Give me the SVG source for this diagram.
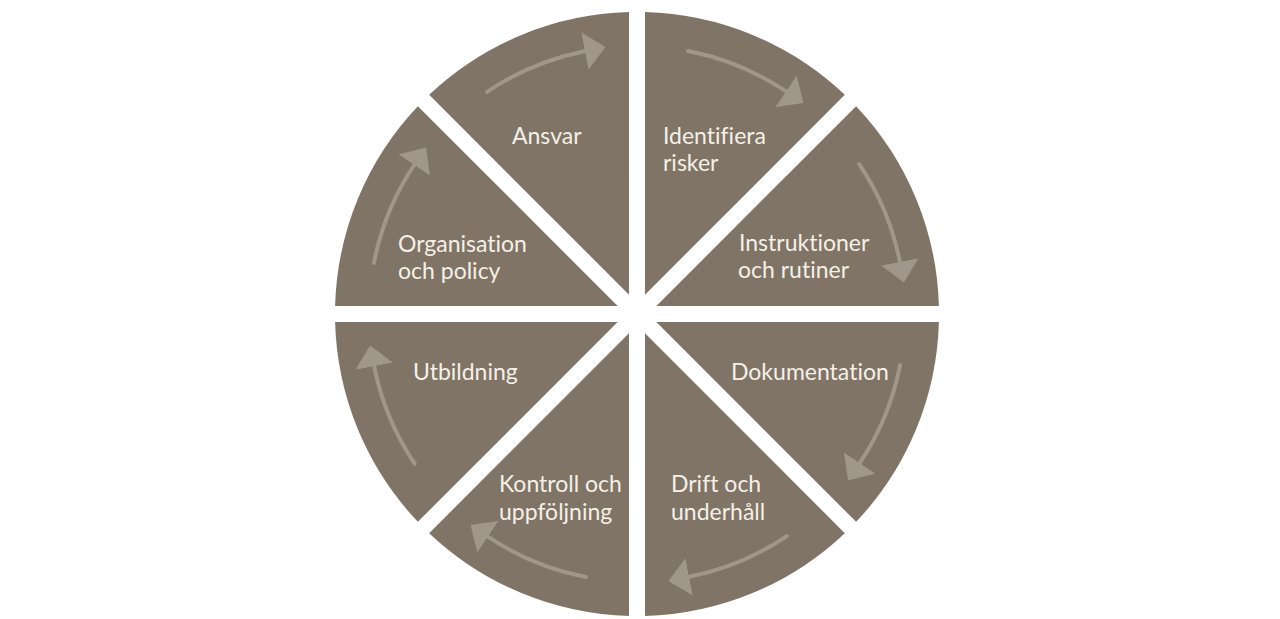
<svg xmlns="http://www.w3.org/2000/svg" width="1280" height="619" viewBox="0 0 1280 619">
  <defs>
    <style>
      .sector { fill: #7f7465; }
      .arc { fill: none; stroke: #a0978a; stroke-width: 4; stroke-linecap: round; }
      .lbl { font-family: Lato, "Open Sans", "Liberation Sans", sans-serif; font-size: 23px; fill: #f5f0e7; font-variant-ligatures: none; font-feature-settings: "liga" 0, "clig" 0; }
    </style>
    <path id="wedge" d="M 8,-19.31 L 8,-301.89 A 302 302 0 0 1 207.81,-219.13 Z"/>
    <marker id="ah" viewBox="0 0 21 38" markerWidth="21" markerHeight="38" refX="1" refY="19" orient="auto" markerUnits="userSpaceOnUse">
      <path d="M0,0 L21,19 L0,38 Z" fill="#a0978a"/>
    </marker>
  </defs>
  <rect width="1280" height="619" fill="#ffffff"/>

  <g transform="translate(637,314)">
    <g id="identifiera-risker"><use href="#wedge" class="sector"/></g>
    <g id="instruktioner-och-rutiner"><use href="#wedge" class="sector" transform="rotate(45)"/></g>
    <g id="dokumentation"><use href="#wedge" class="sector" transform="rotate(90)"/></g>
    <g id="drift-och-underhall"><use href="#wedge" class="sector" transform="rotate(135)"/></g>
    <g id="kontroll-och-uppfoljning"><use href="#wedge" class="sector" transform="rotate(180)"/></g>
    <g id="utbildning"><use href="#wedge" class="sector" transform="rotate(225)"/></g>
    <g id="organisation-och-policy"><use href="#wedge" class="sector" transform="rotate(270)"/></g>
    <g id="ansvar"><use href="#wedge" class="sector" transform="rotate(315)"/></g>

    <g id="connectors">
      <path class="arc" marker-end="url(#ah)" d="M 51.14,-263.08 A 268 268 0 0 1 149.86,-222.18"/>
      <path class="arc" marker-end="url(#ah)" transform="rotate(45)" d="M 51.14,-263.08 A 268 268 0 0 1 149.86,-222.18"/>
      <path class="arc" marker-end="url(#ah)" transform="rotate(90)" d="M 51.14,-263.08 A 268 268 0 0 1 149.86,-222.18"/>
      <path class="arc" marker-end="url(#ah)" transform="rotate(135)" d="M 51.14,-263.08 A 268 268 0 0 1 149.86,-222.18"/>
      <path class="arc" marker-end="url(#ah)" transform="rotate(180)" d="M 51.14,-263.08 A 268 268 0 0 1 149.86,-222.18"/>
      <path class="arc" marker-end="url(#ah)" transform="rotate(225)" d="M 51.14,-263.08 A 268 268 0 0 1 149.86,-222.18"/>
      <path class="arc" marker-end="url(#ah)" transform="rotate(270)" d="M 51.14,-263.08 A 268 268 0 0 1 149.86,-222.18"/>
      <path class="arc" marker-end="url(#ah)" transform="rotate(315)" d="M 51.14,-263.08 A 268 268 0 0 1 149.86,-222.18"/>
    </g>
  </g>

  <g id="labels">
    <text class="lbl" x="512" y="144">Ansvar</text>
    <text class="lbl" x="663" y="144">Identifiera</text>
    <text class="lbl" x="663" y="171">risker</text>
    <text class="lbl" x="739" y="251">Instruktioner</text>
    <text class="lbl" x="738" y="278">och rutiner</text>
    <text class="lbl" x="398" y="252">Organisation</text>
    <text class="lbl" x="398" y="279">och policy</text>
    <text class="lbl" x="413" y="380">Utbildning</text>
    <text class="lbl" x="731" y="380">Dokumentation</text>
    <text class="lbl" x="499" y="492">Kontroll och</text>
    <text class="lbl" x="499" y="520">uppföljning</text>
    <text class="lbl" x="671" y="492">Drift och</text>
    <text class="lbl" x="671" y="520">underhåll</text>
  </g>
</svg>
